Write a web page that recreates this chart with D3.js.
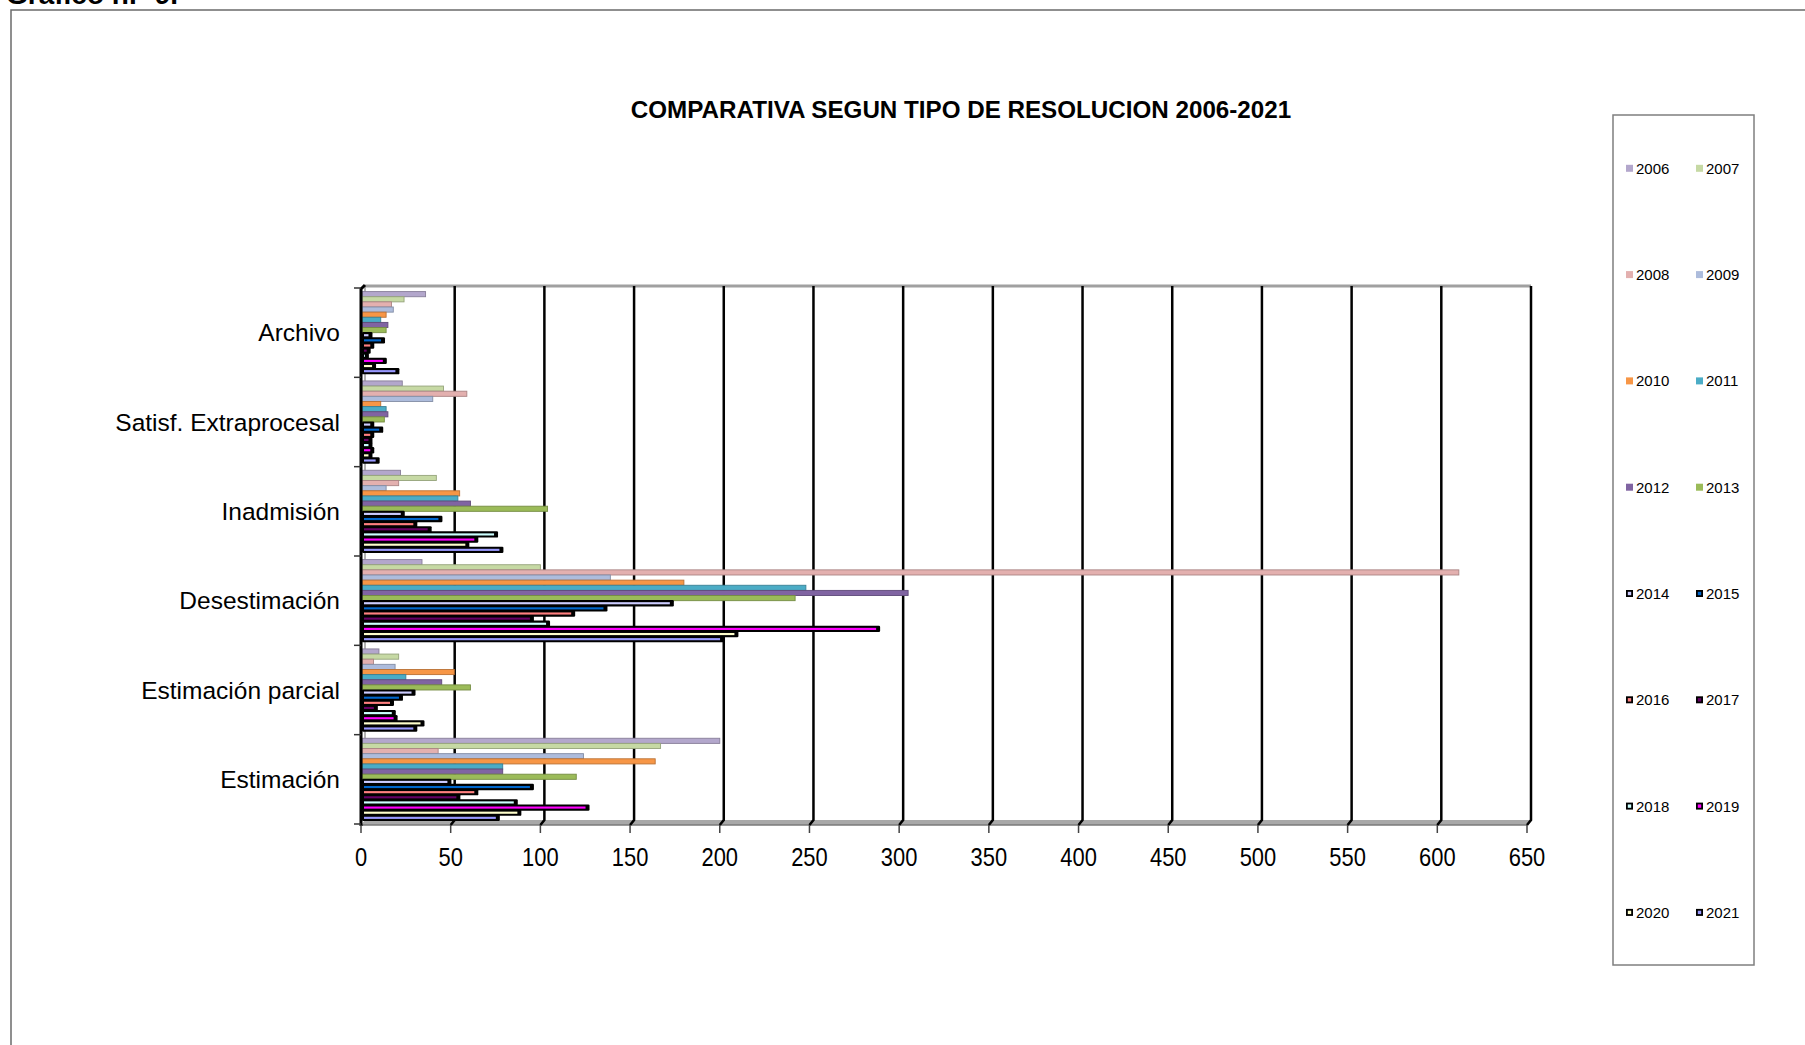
<!DOCTYPE html>
<html>
<head>
<meta charset="utf-8">
<script src="https://cdn.jsdelivr.net/npm/d3@7"></script>
<style>
body { margin: 0; background: #fff; overflow: hidden; }
text { font-family: "Liberation Sans", Arial, sans-serif; }
</style>
</head>
<body>
<div id="chart"></div>
<script>
// categories, top to bottom as in the picture
var categories = ["Archivo", "Satisf. Extraprocesal", "Inadmisión", "Desestimación", "Estimación parcial", "Estimación"];
var years = ["2006", "2007", "2008", "2009", "2010", "2011", "2012", "2013",
             "2014", "2015", "2016", "2017", "2018", "2019", "2020", "2021"];

// values per category, one per year 2006..2021
var archivo       = [36, 24, 17, 18, 14, 11, 15, 14, 5, 12, 6, 4, 3, 13, 7, 20];
var satisf        = [23, 46, 59, 40, 11, 14, 15, 13, 6, 11, 6, 5, 5, 6, 5, 9];
var inadmision    = [22, 42, 21, 14, 55, 54, 61, 104, 23, 44, 30, 38, 75, 64, 59, 78];
var desestimacion = [34, 100, 612, 139, 180, 248, 305, 242, 173, 136, 118, 95, 104, 288, 209, 201];
var estimParcial  = [10, 21, 7, 19, 52, 25, 45, 61, 29, 22, 17, 8, 18, 19, 34, 30];
var estimacion    = [200, 167, 43, 124, 164, 79, 79, 120, 49, 95, 64, 54, 86, 126, 88, 76];

var xTicks = [0, 50, 100, 150, 200, 250, 300, 350, 400, 450, 500, 550, 600, 650];

var colors = ["#b3a7cc", "#c6d9a4", "#e3b0af", "#adbcdc", "#f79646", "#4bacc6", "#8064a2", "#9bbb59",
              "#ccccff", "#0066cc", "#ff8080", "#660066", "#ccffff", "#ff00ff", "#ffffcc", "#9999ff"];

function init()
{
    var w = 1805;
    var h = 1045;
    var depth = 4;
    var series = [archivo, satisf, inadmision, desestimacion, estimParcial, estimacion];

    var svg = d3.select("#chart")
                .append("svg")
                .attr("width", w)
                .attr("height", h);

    var xScale = d3.scaleLinear()
                   .domain([0, 650])
                   .range([361, 1527]);

    var yScale = d3.scaleBand()
                   .domain(categories)
                   .range([288, 824]);

    var yInner = d3.scaleBand()
                   .domain(years)
                   .range([0, yScale.bandwidth()])
                   .paddingOuter(0.7);

    var colorScale = d3.scaleOrdinal().domain(years).range(colors);

    // outer frame
    svg.append("rect")
       .attr("x", 11)
       .attr("y", 10)
       .attr("width", 1900)
       .attr("height", 1200)
       .attr("fill", "none")
       .attr("stroke", "#6b6b6b")
       .attr("stroke-width", 1.5);

    svg.append("text")
       .attr("x", 6)
       .attr("y", 4)
       .attr("font-size", "28px")
       .attr("font-weight", "bold")
       .text("Gráfico n.º 9.");

    svg.append("text")
       .attr("x", 961)
       .attr("y", 118)
       .attr("text-anchor", "middle")
       .attr("font-size", "24.2px")
       .attr("font-weight", "bold")
       .text("COMPARATIVA SEGUN TIPO DE RESOLUCION 2006-2021");

    // back wall top edge
    svg.append("line")
       .attr("x1", xScale(0) + depth)
       .attr("x2", xScale(650) + depth)
       .attr("y1", 286)
       .attr("y2", 286)
       .attr("stroke", "#a0a0a0")
       .attr("stroke-width", 3);

    // floor
    svg.append("polygon")
       .attr("points", [[xScale(0), 825], [xScale(650), 825], [xScale(650) + depth, 820], [xScale(0) + depth, 820]].join(" "))
       .attr("fill", "#a8a8a8");

    svg.append("line")
       .attr("x1", xScale(0))
       .attr("x2", xScale(650))
       .attr("y1", 825)
       .attr("y2", 825)
       .attr("stroke", "#7a7a7a")
       .attr("stroke-width", 1.5);

    // gridlines on the back wall
    svg.selectAll("path.grid")
       .data(xTicks.slice(1))
       .enter()
       .append("path")
       .attr("class", "grid")
       .attr("d", function(d) {
            var x = xScale(d);
            return "M" + (x + depth) + ",286 L" + (x + depth) + ",820 L" + x + ",825";
       })
       .attr("fill", "none")
       .attr("stroke", "#000")
       .attr("stroke-width", 2.5);

    // left wall
    svg.append("line")
       .attr("x1", xScale(0) + depth)
       .attr("x2", xScale(0) + depth)
       .attr("y1", 286)
       .attr("y2", 820)
       .attr("stroke", "#9a9a9a")
       .attr("stroke-width", 1.5);

    var rows = [];
    categories.forEach(function(c, ci) {
        years.forEach(function(y, yi) {
            rows.push({ cat: c, year: y, yi: yi, value: series[ci][yi] });
        });
    });

    var barY = function(d) { return yScale(d.cat) + yInner(d.year); };
    var bw = yInner.bandwidth();

    // plain bars 2006-2013
    svg.selectAll("rect.plain")
       .data(rows.filter(function(d) { return d.yi < 8; }))
       .enter()
       .append("rect")
       .attr("class", "plain")
       .attr("x", xScale(0) + 1)
       .attr("y", barY)
       .attr("width", function(d) { return xScale(d.value) - xScale(0) - 1; })
       .attr("height", bw)
       .attr("fill", function(d) { return colorScale(d.year); })
       .attr("stroke", function(d) { return d3.color(colorScale(d.year)).darker(0.8); })
       .attr("stroke-width", 0.9);

    // bars with thick black outline 2014-2021
    var outlined = rows.filter(function(d) { return d.yi >= 8; });

    svg.selectAll("rect.outline")
       .data(outlined)
       .enter()
       .append("rect")
       .attr("class", "outline")
       .attr("x", xScale(0) + 1)
       .attr("y", function(d) { return barY(d) - 0.6; })
       .attr("width", function(d) { return xScale(d.value) + 2.5 - xScale(0) - 1; })
       .attr("height", bw + 1.2)
       .attr("rx", 1.2)
       .attr("fill", "#000");

    svg.selectAll("rect.inner")
       .data(outlined)
       .enter()
       .append("rect")
       .attr("class", "inner")
       .attr("x", xScale(0) + 3)
       .attr("y", function(d) { return barY(d) + 1.5; })
       .attr("width", function(d) { return Math.max(0, xScale(d.value) - 1.5 - xScale(0) - 3); })
       .attr("height", bw - 3)
       .attr("fill", function(d) { return colorScale(d.year); });

    // left axis
    svg.append("path")
       .attr("d", "M" + xScale(0) + ",826 L" + xScale(0) + ",289 L" + (xScale(0) + depth) + ",285")
       .attr("fill", "none")
       .attr("stroke", "#000")
       .attr("stroke-width", 3);

    var catTicks = categories.map(function(c) { return yScale(c); }).concat([824]);
    svg.selectAll("line.ctick")
       .data(catTicks)
       .enter()
       .append("line")
       .attr("class", "ctick")
       .attr("x1", xScale(0) - 7)
       .attr("x2", xScale(0))
       .attr("y1", function(d) { return d; })
       .attr("y2", function(d) { return d; })
       .attr("stroke", "#333")
       .attr("stroke-width", 1.5);

    svg.selectAll("text.cat")
       .data(categories)
       .enter()
       .append("text")
       .attr("class", "cat")
       .attr("x", 340)
       .attr("y", function(d) { return yScale(d) + yScale.bandwidth() / 2; })
       .attr("dy", "0.35em")
       .attr("text-anchor", "end")
       .attr("font-size", "24.5px")
       .attr("fill", "#000")
       .text(function(d) { return d; });

    // value axis ticks and labels
    svg.selectAll("line.xtick")
       .data(xTicks)
       .enter()
       .append("line")
       .attr("class", "xtick")
       .attr("x1", function(d) { return xScale(d); })
       .attr("x2", function(d) { return xScale(d); })
       .attr("y1", 825)
       .attr("y2", 833)
       .attr("stroke", "#444")
       .attr("stroke-width", 1.5);

    svg.selectAll("text.xlab")
       .data(xTicks)
       .enter()
       .append("text")
       .attr("class", "xlab")
       .attr("transform", function(d) { return "translate(" + xScale(d) + ",866) scale(0.86,1)"; })
       .attr("text-anchor", "middle")
       .attr("font-size", "25.5px")
       .attr("fill", "#000")
       .text(function(d) { return d; });

    // legend
    svg.append("rect")
       .attr("x", 1613)
       .attr("y", 115)
       .attr("width", 141)
       .attr("height", 850)
       .attr("fill", "#fff")
       .attr("stroke", "#7f7f7f")
       .attr("stroke-width", 1.5);

    var items = svg.selectAll("g.item")
       .data(years)
       .enter()
       .append("g")
       .attr("class", "item")
       .attr("transform", function(d, i) {
            return "translate(" + (1626 + (i % 2) * 70) + "," + (168.3 + Math.floor(i / 2) * 106.3) + ")";
       });

    items.append("rect")
       .attr("x", 0)
       .attr("y", -3.5)
       .attr("width", 7)
       .attr("height", 7)
       .attr("fill", function(d, i) { return i >= 8 ? "#000" : colorScale(d); });

    items.filter(function(d, i) { return i >= 8; })
       .append("rect")
       .attr("x", 1.8)
       .attr("y", -1.7)
       .attr("width", 3.4)
       .attr("height", 3.4)
       .attr("fill", function(d) { return colorScale(d); });

    items.append("text")
       .attr("x", 10)
       .attr("y", 0)
       .attr("dy", "0.36em")
       .attr("font-size", "15px")
       .attr("fill", "#000")
       .text(function(d) { return d; });
}
window.onload = init;
</script>
</body>
</html>
